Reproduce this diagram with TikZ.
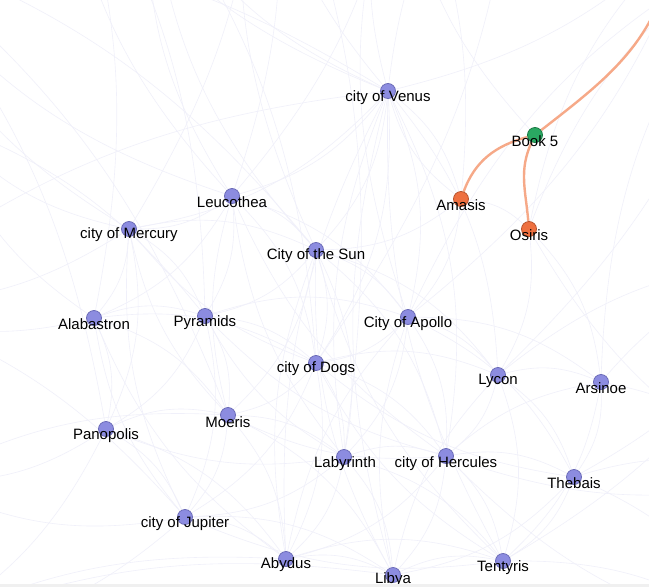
\documentclass[tikz,border=0pt]{standalone}
\usepackage{fontspec}
\setmainfont{Liberation Sans}
\pgfdeclarelayer{back}
\pgfdeclarelayer{bg}
\pgfsetlayers{back,bg,main}
\definecolor{vfill}{HTML}{8C8CE0}
\definecolor{vdraw}{HTML}{6C6CB8}
\definecolor{ofill}{HTML}{EE7040}
\definecolor{odraw}{HTML}{B85530}
\definecolor{gfill}{HTML}{2AA862}
\definecolor{gdraw}{HTML}{1C7A45}
\definecolor{oedge}{HTML}{F6A988}
\definecolor{fedge}{HTML}{F0F0FA}
\definecolor{strip}{HTML}{F0F0F0}
\begin{document}
\begin{tikzpicture}[x=1pt,y=-1pt,
  vbase/.style={circle,inner sep=0pt,minimum size=15pt,line width=0.8pt},
  vnode/.style={vbase,fill=vfill,draw=vdraw},
  onode/.style={vbase,fill=ofill,draw=odraw},
  gnode/.style={vbase,fill=gfill,draw=gdraw},
  lbl/.style={font=\fontsize{15}{17}\selectfont,text=black,inner sep=0pt},
  faint/.style={draw=fedge,line width=0.6pt},
  hot/.style={draw=oedge,line width=2.4pt}]
\useasboundingbox (0,0) rectangle (649,587);
\clip (0,0) rectangle (649,587);
\begin{pgfonlayer}{back}
\fill[white] (0,0) rectangle (649,587);
\end{pgfonlayer}
% nodes
\node[vnode] (ve) at (388,91) {};
\node[gnode] (b5) at (535,135) {};
\node[vnode] (le) at (232,196) {};
\node[onode] (am) at (461,199) {};
\node[vnode] (me) at (129,229) {};
\node[onode] (os) at (529,229) {};
\node[vnode] (su) at (316,250) {};
\node[vnode] (al) at (94,318) {};
\node[vnode] (py) at (205,316) {};
\node[vnode] (ap) at (408,317) {};
\node[vnode] (do) at (316,363) {};
\node[vnode] (ly) at (498,375) {};
\node[vnode] (ar) at (601,382) {};
\node[vnode] (pa) at (106,429) {};
\node[vnode] (mo) at (228,415) {};
\node[vnode] (la) at (344,457) {};
\node[vnode] (he) at (446,456) {};
\node[vnode] (th) at (574,477) {};
\node[vnode] (ju) at (185,517) {};
\node[vnode] (ab) at (286,559) {};
\node[vnode] (li) at (393,575) {};
\node[vnode] (te) at (503,561) {};
% off-canvas anchors
\coordinate (x1) at (-120,-60);
\coordinate (x2) at (60,-180);
\coordinate (x3) at (260,-220);
\coordinate (x4) at (520,-200);
\coordinate (x5) at (760,-60);
\coordinate (x6) at (800,260);
\coordinate (x7) at (760,640);
\coordinate (x8) at (-100,640);
\coordinate (x9) at (-140,300);
\coordinate (x0) at (700,-80);
\coordinate (y1) at (150,-120);
\coordinate (y2) at (400,-160);
\coordinate (y3) at (-60,120);
\coordinate (y4) at (-80,480);
\coordinate (y5) at (780,480);
% labels
\node[lbl] (ve-t) at (388,98) {city of Venus};
\node[lbl] (b5-t) at (535,141) {Book 5};
\node[lbl] (le-t) at (232,202) {Leucothea};
\node[lbl] (am-t) at (461,205) {Amasis};
\node[lbl] (me-t) at (129,235) {city of Mercury};
\node[lbl] (os-t) at (529,235) {Osiris};
\node[lbl] (su-t) at (316,256) {City of the Sun};
\node[lbl] (al-t) at (94,324) {Alabastron};
\node[lbl] (py-t) at (205,323) {Pyramids};
\node[lbl] (ap-t) at (408,324) {City of Apollo};
\node[lbl] (do-t) at (316,369) {city of Dogs};
\node[lbl] (ly-t) at (498,381) {Lycon};
\node[lbl] (ar-t) at (601,388) {Arsinoe};
\node[lbl] (pa-t) at (106,436) {Panopolis};
\node[lbl] (mo-t) at (228,422) {Moeris};
\node[lbl] (la-t) at (345,464) {Labyrinth};
\node[lbl] (he-t) at (446,464) {city of Hercules};
\node[lbl] (th-t) at (574,483) {Thebais};
\node[lbl] (ju-t) at (185,524) {city of Jupiter};
\node[lbl] (ab-t) at (286,565) {Abydus};
\node[lbl] (li-t) at (393,580) {Libya};
\node[lbl] (te-t) at (503,568) {Tentyris};
\fill[strip] (0,584) rectangle (649,587);
\begin{pgfonlayer}{bg}
  \foreach \a/\b in {ve/le,ve/su,ve/me,ve/ap,ve/do,ve/ly,ve/he,ve/am,ve/x3,ve/x4,ve/x2,
    le/me,le/su,le/py,le/al,le/x2,le/x1,le/do,le/ap,
    me/al,me/py,me/x1,me/x9,me/su,me/pa,
    su/py,su/ap,su/do,su/la,su/mo,su/he,su/ly,su/x3,
    al/py,al/pa,al/mo,al/x9,al/do,
    py/do,py/mo,py/pa,py/ju,py/ap,
    ap/do,ap/ly,ap/he,ap/la,ap/ar,ap/th,ap/x5,
    do/mo,do/la,do/he,do/ly,do/ju,do/ab,
    ly/ar,ly/he,ly/th,ly/te,ly/x6,
    ar/th,ar/x6,ar/x5,ar/te,
    pa/mo,pa/ju,pa/x8,pa/ab,
    mo/la,mo/ju,mo/ab,mo/li,
    la/he,la/ab,la/li,la/te,la/ju,
    he/th,he/te,he/li,he/ab,
    th/te,th/x7,th/li,
    ju/ab,ju/li,ju/x8,
    ab/li,ab/te,li/te,te/x7,
    am/os,am/ap,am/su,os/ly,os/ar,am/ve,os/x5,os/x0,
    ve/y1,ve/y2,le/y1,me/y3,al/y3,pa/y4,ju/y4,ar/y5,th/y5,b5/y2,ap/y2,su/y1}
    {\draw[faint] (\a) to[bend left=18] (\b);}
  \foreach \a/\b in {ve/x1,ve/x9,le/x3,me/x3,su/x1,al/x2,py/x2,pa/x1,ju/x9,ab/x8,
    li/x8,te/x6,th/x6,he/x7,ly/x5,ap/x0,do/x4,la/x3,mo/x1,ve/x0,ve/te,me/ju,le/la,su/li,al/ju,
    ve/la,ve/ab,ve/li,le/mo,le/he,me/do,me/mo,su/ab,su/te,py/la,py/he,ap/li,ap/ab,do/te,do/th,
    ly/li,ar/he,pa/la,al/ab,mo/he,ju/te,py/y3,le/y2,do/y1,mo/y4,he/y5,am/y2,os/y5}
    {\draw[faint] (\a) to[bend right=15] (\b);}
  \draw[hot] (b5) to[out=195,in=70] (am);
  \draw[hot] (b5) to[out=245,in=95] (os);
  \coordinate (x11) at (670,-30);
  \draw[hot] (b5) to[out=38,in=255] (x11);
\end{pgfonlayer}
\end{tikzpicture}
\end{document}
